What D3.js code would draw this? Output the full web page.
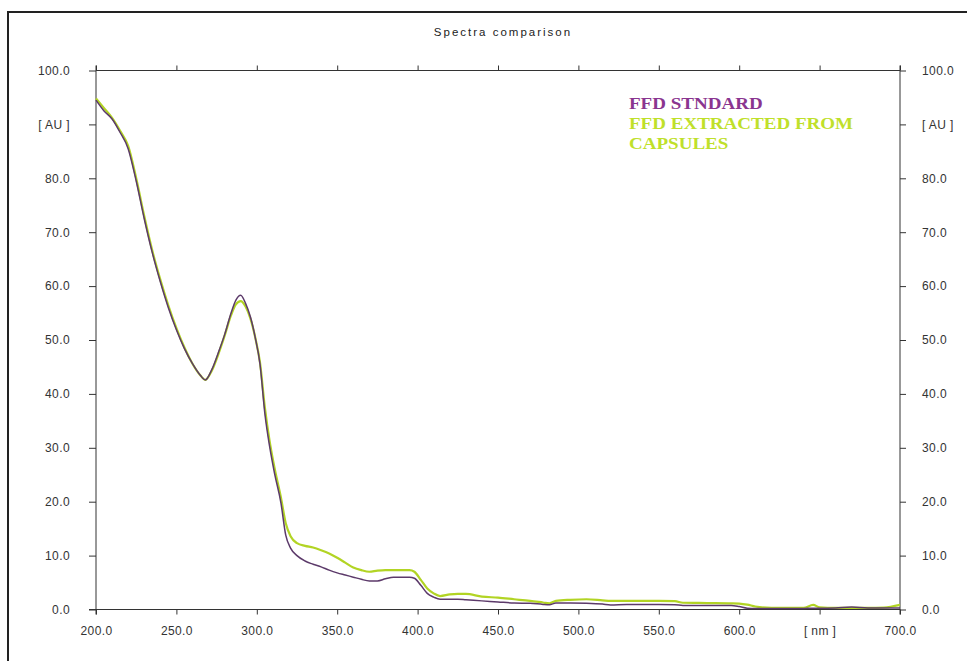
<!DOCTYPE html>
<html>
<head>
<meta charset="utf-8">
<script src="https://cdn.jsdelivr.net/npm/d3@7/dist/d3.min.js"></script>
<style>
  html, body { margin: 0; padding: 0; background: #fff; }
  svg { display: block; }
  .axis text { font-family: "Liberation Sans", Arial, sans-serif; font-size: 12px; fill: #333; letter-spacing: 0.4px; }
  .axis path, .axis line { stroke: #333; }
</style>
</head>
<body>
<svg id="chart" width="967" height="661"></svg>
<script>
// Wavelength grid (nm) shared by both spectra
const wavelengths = [200, 205, 210, 215, 220, 225, 230, 235, 240, 245, 250, 255, 260, 265, 268, 272, 276, 280, 284, 287, 290, 293, 296, 299, 302, 305, 308, 311, 315, 318, 321, 325, 330, 335, 340, 345, 350, 355, 360, 365, 370, 375, 380, 385, 390, 395, 398, 402, 406, 410, 414, 420, 425, 430, 440, 450, 460, 470, 478, 482, 486, 495, 505, 515, 520, 530, 540, 550, 560, 565, 580, 595, 600, 605, 610, 620, 640, 646, 650, 660, 670, 680, 690, 700];

// Absorbance (AU) of the reference standard
const standardAU = [94.5, 92.5, 91.0, 88.5, 85.5, 79.5, 72.5, 66.2, 60.8, 56.0, 51.9, 48.4, 45.6, 43.4, 42.6, 44.5, 47.6, 51.0, 55.0, 57.4, 58.3, 56.8, 54.3, 50.5, 45.5, 36.4, 30.2, 25.3, 19.8, 13.8, 11.4, 10.0, 9.0, 8.4, 7.9, 7.3, 6.8, 6.4, 6.0, 5.6, 5.3, 5.3, 5.7, 6.0, 6.0, 6.0, 5.8, 4.5, 3.0, 2.3, 1.9, 1.9, 1.9, 1.8, 1.6, 1.4, 1.2, 1.15, 0.95, 0.9, 1.2, 1.2, 1.15, 1.0, 0.85, 0.95, 0.95, 0.95, 0.9, 0.75, 0.75, 0.75, 0.55, 0.25, 0.2, 0.2, 0.2, 0.25, 0.25, 0.3, 0.45, 0.3, 0.3, 0.3];

// Absorbance (AU) of the sample extracted from capsules
const extractedAU = [94.8, 93.0, 91.2, 88.8, 86.0, 80.0, 73.0, 66.6, 61.2, 56.4, 52.2, 48.6, 45.6, 43.4, 42.6, 44.3, 47.3, 50.8, 54.6, 56.6, 57.2, 56.2, 54.0, 50.5, 45.8, 37.5, 31.2, 26.3, 20.8, 16.0, 13.6, 12.3, 11.8, 11.5, 11.0, 10.4, 9.6, 8.7, 7.8, 7.3, 7.0, 7.2, 7.3, 7.3, 7.3, 7.3, 7.0, 5.5, 3.9, 3.0, 2.5, 2.8, 2.9, 2.9, 2.4, 2.2, 1.9, 1.6, 1.3, 1.15, 1.6, 1.8, 1.9, 1.7, 1.6, 1.6, 1.6, 1.6, 1.55, 1.25, 1.2, 1.15, 1.1, 0.9, 0.55, 0.3, 0.3, 0.85, 0.4, 0.3, 0.3, 0.3, 0.35, 0.85];

const xTicks = [200, 250, 300, 350, 400, 450, 500, 550, 600, 650, 700];
const xTickLabels = ["200.0", "250.0", "300.0", "350.0", "400.0", "450.0", "500.0", "550.0", "600.0", "[ nm ]", "700.0"];
const yTicks = [0, 10, 20, 30, 40, 50, 60, 70, 80, 90, 100];
const yTickLabels = ["0.0", "10.0", "20.0", "30.0", "40.0", "50.0", "60.0", "70.0", "80.0", "[ AU ]", "100.0"];

const legendLabels = ["FFD STNDARD", "FFD EXTRACTED FROM", "CAPSULES"];
const titleText = "Spectra comparison";

const svg = d3.select("#chart");

// Outer frame (runs past the right and bottom edges)
svg.append("rect")
  .attr("x", 8).attr("y", 12)
  .attr("width", 1000).attr("height", 700)
  .attr("fill", "none").attr("stroke", "#222").attr("stroke-width", 2);

const x = d3.scaleLinear().domain([200, 700]).range([96, 900]);
const y = d3.scaleLinear().domain([0, 100]).range([609.5, 70.5]);

// Title
svg.append("text")
  .attr("x", 503).attr("y", 36)
  .attr("text-anchor", "middle")
  .style("font-family", "'Liberation Sans', Arial, sans-serif")
  .style("font-size", "11.5px")
  .style("letter-spacing", "2px")
  .style("fill", "#222")
  .text(titleText);

// Axes
svg.append("g").attr("class", "axis")
  .attr("transform", `translate(0,${y(0)})`)
  .call(d3.axisBottom(x).tickValues(xTicks).tickSize(5).tickPadding(12)
    .tickFormat((d, i) => xTickLabels[i]));

svg.append("g").attr("class", "axis")
  .attr("transform", `translate(0,${y(100)})`)
  .call(d3.axisTop(x).tickValues(xTicks).tickSize(5).tickFormat(""));

svg.append("g").attr("class", "axis")
  .attr("transform", `translate(${x(200)},0)`)
  .call(d3.axisLeft(y).tickValues(yTicks).tickSize(7).tickPadding(19)
    .tickFormat((d, i) => yTickLabels[i]));

svg.append("g").attr("class", "axis")
  .attr("transform", `translate(${x(700)},0)`)
  .call(d3.axisRight(y).tickValues(yTicks).tickSize(6).tickPadding(16)
    .tickFormat((d, i) => yTickLabels[i]));

// Replace the domain paths with plain border lines
svg.selectAll(".axis path.domain").remove();
const border = svg.append("g").attr("stroke", "#333").attr("stroke-width", 1);
border.append("line").attr("x1", x(200) - 7).attr("x2", x(700)).attr("y1", y(0)).attr("y2", y(0));
border.append("line").attr("x1", x(200)).attr("x2", x(700)).attr("y1", y(100)).attr("y2", y(100));
border.append("line").attr("x1", x(200)).attr("x2", x(200)).attr("y1", y(100) - 5).attr("y2", y(0) + 5);
border.append("line").attr("x1", x(700)).attr("x2", x(700)).attr("y1", y(100) - 5).attr("y2", y(0) + 5);

// Spectra
const line = d3.line().x(d => x(d[0])).y(d => y(d[1])).curve(d3.curveMonotoneX);
const extractedPts = wavelengths.map((w, i) => [w, extractedAU[i]]);
const standardPts = wavelengths.map((w, i) => [w, standardAU[i]]);

svg.append("path").datum(extractedPts)
  .attr("d", line).attr("fill", "none")
  .attr("stroke", "#b2d424").attr("stroke-width", 2.2);

svg.append("path").datum(standardPts)
  .attr("d", line).attr("fill", "none")
  .attr("stroke", "#5c3a6a").attr("stroke-width", 1.5);

// Legend
const legendColors = ["#8a3590", "#bfe02a", "#bfe02a"];
svg.append("g")
  .attr("transform", "translate(629,0) scale(1.12,1)")
  .selectAll("text").data(legendLabels).join("text")
  .attr("x", 0).attr("y", (d, i) => 109 + i * 20)
  .style("font-family", "'Liberation Serif', 'Times New Roman', serif")
  .style("font-weight", "bold")
  .style("font-size", "17px")
  .style("fill", (d, i) => legendColors[i])
  .text(d => d);
</script>
</body>
</html>
